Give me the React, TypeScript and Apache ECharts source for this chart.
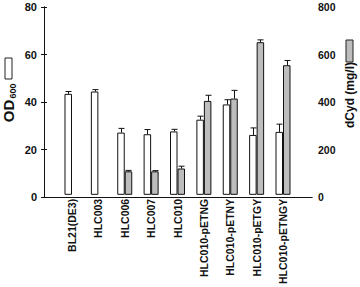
import React, { useEffect, useRef } from "react";
import * as echarts from "echarts";

const categories = [
  "BL21(DE3)",
  "HLC003",
  "HLC006",
  "HLC007",
  "HLC010",
  "HLC010-pETNG",
  "HLC010-pETNY",
  "HLC010-pETGY",
  "HLC010-pETNGY",
];
const od600 = [43, 44, 26.5, 25.8, 27, 32, 38.5, 25.5, 26.8];
const od600Err = [1, 0.8, 1.8, 2, 0.9, 1.5, 2, 3, 3.3];
const dcyd: (number | null)[] = [null, null, 100, 100, 112, 400, 410, 650, 552];
const dcydErr: (number | null)[] = [null, null, 4, 3, 10, 24, 35, 10, 20];
const leftTicks = [0, 80, 20];
const rightTicks = [0, 800, 200];

const BAR_W = 7.5;
const FONT = "Arial, 'Liberation Sans', sans-serif";

function errRender(offset: number) {
  return (params: any, api: any) => {
    const v = api.value(1);
    const e = api.value(2);
    if (v == null || isNaN(v)) return null;
    const base = api.coord([api.value(0), v]);
    const top = api.coord([api.value(0), v + e]);
    const x = Math.round(base[0] + offset) + 0.5;
    const st = { stroke: "#111", lineWidth: 1 };
    return {
      type: "group",
      children: [
        { type: "line", shape: { x1: x, y1: base[1], x2: x, y2: top[1] }, style: st },
        { type: "line", shape: { x1: x - 3, y1: top[1], x2: x + 3, y2: top[1] }, style: st },
      ],
    };
  };
}

export default function App() {
  const ref = useRef<HTMLDivElement>(null);
  useEffect(() => {
    if (!ref.current) return;
    const chart = echarts.init(ref.current, null, { renderer: "svg" });
    const axisLine = { show: true, lineStyle: { color: "#111", width: 1 } };
    const option: any = {
      animation: false,
      backgroundColor: "#fff",
      grid: [
        { left: 58.8, right: 63.8, top: 7, bottom: 90 },
        { left: 44, right: 48, top: 7, bottom: 90 },
      ],
      xAxis: [
        {
          type: "category",
          gridIndex: 0,
          data: categories,
          axisLine: { show: false },
          axisTick: { show: false },
          axisLabel: {
            rotate: 90,
            margin: 4,
            interval: 0,
            fontSize: 10.5,
            fontWeight: "bold",
            fontFamily: FONT,
            color: "#111",
          },
        },
        {
          type: "value",
          gridIndex: 1,
          position: "bottom",
          min: 0,
          max: 1,
          axisLine,
          axisTick: { show: false },
          axisLabel: { show: false },
          splitLine: { show: false },
        },
        {
          type: "value",
          gridIndex: 1,
          position: "top",
          min: 0,
          max: 1,
          axisLine,
          axisTick: { show: false },
          axisLabel: { show: false },
          splitLine: { show: false },
        },
      ],
      yAxis: [
        { type: "value", gridIndex: 0, min: leftTicks[0], max: leftTicks[1], show: false },
        { type: "value", gridIndex: 0, min: rightTicks[0], max: rightTicks[1], show: false },
        {
          type: "value",
          gridIndex: 1,
          position: "left",
          min: leftTicks[0],
          max: leftTicks[1],
          interval: leftTicks[2],
          axisLine,
          axisTick: { show: true, length: 3, lineStyle: { color: "#111" } },
          axisLabel: { margin: 7, fontSize: 11, fontWeight: "bold", fontFamily: FONT, color: "#111" },
          splitLine: { show: false },
        },
        {
          type: "value",
          gridIndex: 1,
          position: "right",
          min: rightTicks[0],
          max: rightTicks[1],
          interval: rightTicks[2],
          axisLine,
          axisTick: { show: true, length: 3, lineStyle: { color: "#111" } },
          axisLabel: { margin: 6, fontSize: 10.5, fontWeight: "bold", fontFamily: FONT, color: "#111" },
          splitLine: { show: false },
        },
      ],
      series: [
        {
          type: "bar",
          name: "OD600",
          xAxisIndex: 0,
          yAxisIndex: 0,
          data: od600,
          barWidth: BAR_W,
          barGap: "0%",
          itemStyle: { color: "#fff", borderColor: "#111", borderWidth: 1 },
        },
        {
          type: "bar",
          name: "dCyd",
          xAxisIndex: 0,
          yAxisIndex: 1,
          data: dcyd,
          barWidth: BAR_W,
          barGap: "0%",
          itemStyle: { color: "#bdbdbd", borderColor: "#111", borderWidth: 1 },
        },
        {
          type: "custom",
          xAxisIndex: 0,
          yAxisIndex: 0,
          renderItem: errRender(-BAR_W / 2),
          data: od600.map((v, i) => [i, v, od600Err[i]]),
          z: 5,
        },
        {
          type: "custom",
          xAxisIndex: 0,
          yAxisIndex: 1,
          renderItem: errRender(BAR_W / 2),
          data: dcyd
            .map((v, i) => (v == null ? null : [i, v, dcydErr[i] as number]))
            .filter((d) => d !== null),
          z: 5,
        },
      ],
      graphic: [
        {
          type: "rect",
          shape: { x: 5, y: 58, width: 7, height: 21 },
          style: { fill: "#fff", stroke: "#222", lineWidth: 1 },
        },
        {
          type: "text",
          x: 8,
          y: 111,
          rotation: Math.PI / 2,
          style: {
            text: "OD",
            font: `bold 15px ${FONT}`,
            fill: "#111",
            align: "center",
            verticalAlign: "middle",
            textAlign: "center",
            textVerticalAlign: "middle",
          },
        },
        {
          type: "text",
          x: 13,
          y: 91,
          rotation: Math.PI / 2,
          style: {
            text: "600",
            font: `bold 9px ${FONT}`,
            fill: "#111",
            align: "center",
            verticalAlign: "middle",
            textAlign: "center",
            textVerticalAlign: "middle",
          },
        },
        {
          type: "rect",
          shape: { x: 346, y: 40, width: 7, height: 22 },
          style: { fill: "#bdbdbd", stroke: "#222", lineWidth: 1 },
        },
        {
          type: "text",
          x: 350,
          y: 95,
          rotation: Math.PI / 2,
          style: {
            text: "dCyd (mg/l)",
            font: `bold 12px ${FONT}`,
            fill: "#111",
            align: "center",
            verticalAlign: "middle",
            textAlign: "center",
            textVerticalAlign: "middle",
          },
        },
      ],
    };
    chart.setOption(option);
    return () => chart.dispose();
  }, []);
  return (
    <div
      ref={ref}
      style={{ position: "absolute", left: 0, top: 0, width: 360, height: 287 }}
    />
  );
}
